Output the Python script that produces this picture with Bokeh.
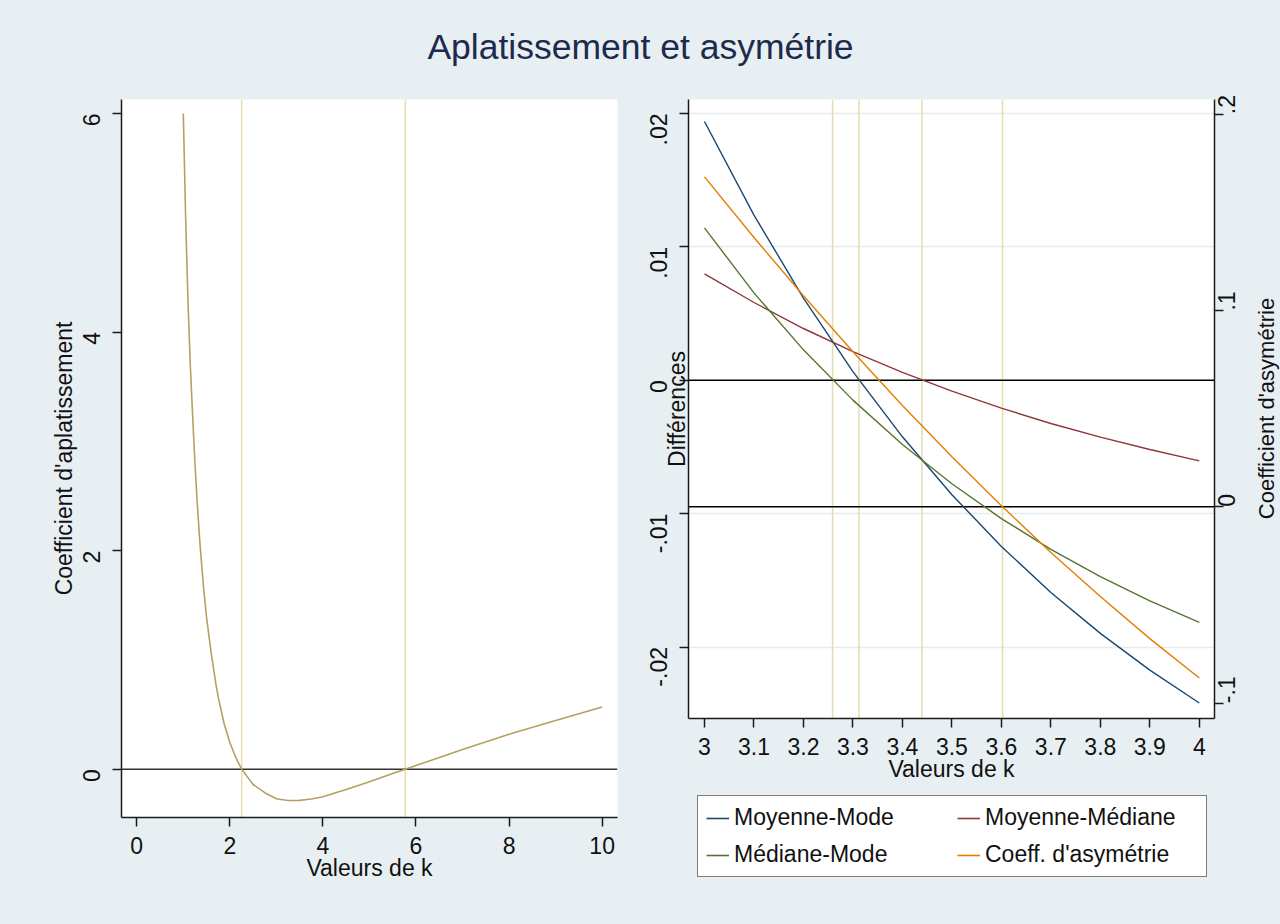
import math
from bokeh.plotting import figure
from bokeh.models import Range1d, LinearAxis, Span, Legend, LegendItem, Label, FixedTicker
from bokeh.layouts import column, row
from bokeh.embed import file_html
from bokeh.resources import INLINE

FONT = "Liberation Sans"
BG = "#e8eff2"
TXT = "#111111"

TITLE = "Aplatissement et asymétrie"

# ---- Left panel: coefficient d'aplatissement (excess kurtosis) vs k ----
k_kurt = [1.0, 1.05, 1.1, 1.15, 1.2, 1.25, 1.3, 1.35, 1.4, 1.45, 1.5, 1.6, 1.7, 1.75,
          1.875, 2.0, 2.125, 2.25, 2.5, 2.75, 3.0, 3.25, 3.5, 3.75, 4.0, 4.5, 5.0,
          5.5, 5.77, 6.0, 7.0, 8.0, 9.0, 10.0]
kurt = [6.0, 5.05, 4.29, 3.70, 3.24, 2.80, 2.43, 2.11, 1.84, 1.595, 1.39, 1.06, 0.78, 0.66,
        0.42, 0.245, 0.11, 0.003, -0.14, -0.215, -0.27, -0.287, -0.285, -0.272, -0.252, -0.185, -0.115,
        -0.04, 0.0, 0.033, 0.18, 0.32, 0.445, 0.57]
kurt_vlines = [2.2541, 5.7709]
left_xticks = [0, 2, 4, 6, 8, 10]
left_yticks = [0, 2, 4, 6]

# ---- Right panel: differences and skewness vs k ----
k_r = [3.0, 3.1, 3.2, 3.3, 3.4, 3.5, 3.6, 3.7, 3.8, 3.9, 4.0]
mean_mode = [0.01940, 0.01238, 0.00616, 0.00065, -0.00424, -0.00858, -0.01246, -0.01591, -0.01898, -0.02173, -0.02420]
mean_median = [0.00798, 0.00583, 0.00388, 0.00214, 0.00059, -0.00082, -0.00209, -0.00324, -0.00426, -0.00519, -0.00604]
median_mode = [0.01142, 0.00655, 0.00228, -0.00149, -0.00482, -0.00776, -0.01037, -0.01268, -0.01473, -0.01654, -0.01816]
skew = [0.1681, 0.1372, 0.1075, 0.0790, 0.0516, 0.0255, 0.0006, -0.0232, -0.0457, -0.0671, -0.0872]
right_vlines = [3.2589, 3.3122, 3.4395, 3.6023]
right_xticks = [3.0, 3.1, 3.2, 3.3, 3.4, 3.5, 3.6, 3.7, 3.8, 3.9, 4.0]
right_xlabels = ["3", "3.1", "3.2", "3.3", "3.4", "3.5", "3.6", "3.7", "3.8", "3.9", "4"]
diff_ticks = [-0.02, -0.01, 0.0, 0.01, 0.02]
diff_labels = ["-.02", "-.01", "0", ".01", ".02"]
skew_ticks = [-0.1, 0.0, 0.1, 0.2]
skew_labels = ["-.1", "0", ".1", ".2"]
series_names = ["Moyenne-Mode", "Moyenne-Médiane", "Médiane-Mode", "Coeff. d'asymétrie"]
series_colors = ["#1a476f", "#90353b", "#55752f", "#e37e00"]
series_values = [mean_mode, mean_median, median_mode, skew]

KHAKI = "#b4a062"
VLINE = "#e6dcae"


def style_axis(ax, ticks, overrides=None, vertical=False, standoff=10):
    ax.ticker = FixedTicker(ticks=ticks)
    if overrides:
        ax.major_label_overrides = overrides
    ax.major_label_text_font = FONT
    ax.major_label_text_font_size = "23px"
    ax.major_label_text_color = TXT
    ax.axis_label_text_font = FONT
    ax.axis_label_text_font_size = "23px"
    ax.axis_label_text_font_style = "normal"
    ax.axis_label_text_color = TXT
    ax.axis_line_color = "#1a1a1a"
    ax.axis_line_width = 1.5
    ax.major_tick_line_color = "#1a1a1a"
    ax.major_tick_line_width = 1.5
    ax.major_tick_out = 9
    ax.major_tick_in = 0
    ax.minor_tick_line_color = None
    ax.major_label_standoff = standoff
    if vertical:
        ax.major_label_orientation = math.pi / 2


def bare_fig(w, h, xr=(0, 1), yr=(0, 1), **kw):
    return figure(width=w, height=h, x_range=Range1d(*xr), y_range=Range1d(*yr),
                  toolbar_location=None, output_backend="svg",
                  x_axis_type=None, y_axis_type=None, outline_line_color=None,
                  background_fill_color=BG, border_fill_color=BG, frame_align=False, **kw)


# ---- Title strip ----
pt = figure(width=1280, height=70, x_range=Range1d(0, 1280), y_range=Range1d(0, 70),
            toolbar_location=None, output_backend="svg", min_border=0,
            x_axis_type=None, y_axis_type=None, outline_line_color=None,
            background_fill_color=BG, border_fill_color=BG)
pt.add_layout(Label(x=640, y=23.5, text=TITLE, text_align="center", text_baseline="middle",
                    text_font=FONT, text_font_size="35.5px", text_color="#1c2a4d"))

# ---- Left panel ----
p1 = figure(width=630, height=854, x_range=Range1d(-0.328, 10.33), y_range=Range1d(-0.442, 6.128),
            toolbar_location=None, output_backend="svg", frame_align=False,
            min_border_left=121, min_border_right=13, min_border_top=29, min_border_bottom=107,
            background_fill_color="white", border_fill_color=BG, outline_line_color=None)
p1.grid.visible = False
for v in kurt_vlines:
    p1.add_layout(Span(location=v, dimension="height", line_color=VLINE, line_width=1.5, level="underlay"))
p1.add_layout(Span(location=0, dimension="width", line_color="#333333", line_width=1.5, level="underlay"))
p1.line(k_kurt, kurt, line_color=KHAKI, line_width=1.6)
style_axis(p1.xaxis[0], left_xticks)
style_axis(p1.yaxis[0], left_yticks, vertical=True, standoff=21)
p1.xaxis[0].axis_label = "Valeurs de k"
p1.xaxis[0].axis_label_standoff = -2
p1.yaxis[0].axis_label = "Coefficient d'aplatissement"
p1.yaxis[0].axis_label_standoff = -5

# ---- Right panel ----
xr2 = Range1d(2.9677, 4.0307)
yr2 = Range1d(-0.02536, 0.02105)
p2 = figure(width=622, height=723, x_range=xr2, y_range=yr2,
            toolbar_location=None, output_backend="svg", frame_align=False,
            min_border_left=58, min_border_right=38, min_border_top=29, min_border_bottom=75,
            background_fill_color="white", border_fill_color=BG, outline_line_color=None)
p2.extra_y_ranges = {"skew": Range1d(-0.1078, 0.2075)}
p2.xgrid.visible = False
p2.ygrid.ticker = FixedTicker(ticks=diff_ticks)
p2.ygrid.grid_line_color = "#e4ecef"
p2.ygrid.grid_line_width = 1.5
for v in right_vlines:
    p2.add_layout(Span(location=v, dimension="height", line_color=VLINE, line_width=1.5, level="underlay"))
p2.add_layout(Span(location=0, dimension="width", line_color="#000000", line_width=1.5, level="underlay"))
p2.add_layout(Span(location=0, dimension="width", y_range_name="skew", line_color="#000000",
                   line_width=1.5, level="underlay"))

p2.line(k_r, mean_mode, line_color=series_colors[0], line_width=1.4)
p2.line(k_r, mean_median, line_color=series_colors[1], line_width=1.4)
p2.line(k_r, median_mode, line_color=series_colors[2], line_width=1.4)
p2.line(k_r, skew, y_range_name="skew", line_color=series_colors[3], line_width=1.4)

style_axis(p2.xaxis[0], right_xticks, overrides=dict(zip(right_xticks, right_xlabels)))
p2.xaxis[0].axis_label = "Valeurs de k"
p2.xaxis[0].axis_label_standoff = -2
style_axis(p2.yaxis[0], diff_ticks, overrides=dict(zip(diff_ticks, diff_labels)), vertical=True, standoff=21)
p2.yaxis[0].axis_label = "Différences"
p2.yaxis[0].axis_label_standoff = -51

ax_r = LinearAxis(y_range_name="skew")
style_axis(ax_r, skew_ticks, overrides=dict(zip(skew_ticks, skew_labels)), vertical=True, standoff=3)
p2.add_layout(ax_r, "right")

# ---- Legend strip under the right panel ----
pl = bare_fig(622, 131, min_border_left=67, min_border_top=2, min_border_right=0, min_border_bottom=0)
leg_r = [pl.line(k_r, vals, line_color=c, line_width=1.6) for vals, c in zip(series_values, series_colors)]
legend = Legend(items=[LegendItem(label=n, renderers=[r]) for n, r in zip(series_names, leg_r)],
                location="top_left", orientation="horizontal", ncols=2,
                label_text_font=FONT, label_text_font_size="23px", label_text_color=TXT,
                label_width=213, label_height=27, glyph_width=23, glyph_height=20,
                label_standoff=5, spacing=10, padding=8, margin=0,
                border_line_color="#000000", border_line_width=1.5,
                background_fill_color="white", background_fill_alpha=1.0)
pl.add_layout(legend)

# ---- Narrow strip holding the right axis title ----
pr = bare_fig(28, 854, xr=(0, 28), yr=(0, 854), min_border=0)
pr.add_layout(Label(x=14, y=516, text="Coefficient d'asymétrie", angle=math.pi / 2,
                    text_align="center", text_baseline="middle", text_font=FONT,
                    text_font_size="22px", text_color=TXT))

right_col = column(p2, pl, styles={"background-color": BG})
layout = column(pt, row(p1, right_col, pr, styles={"background-color": BG}),
                styles={"background-color": BG})
open("out.html", "w").write(file_html(layout, INLINE))
